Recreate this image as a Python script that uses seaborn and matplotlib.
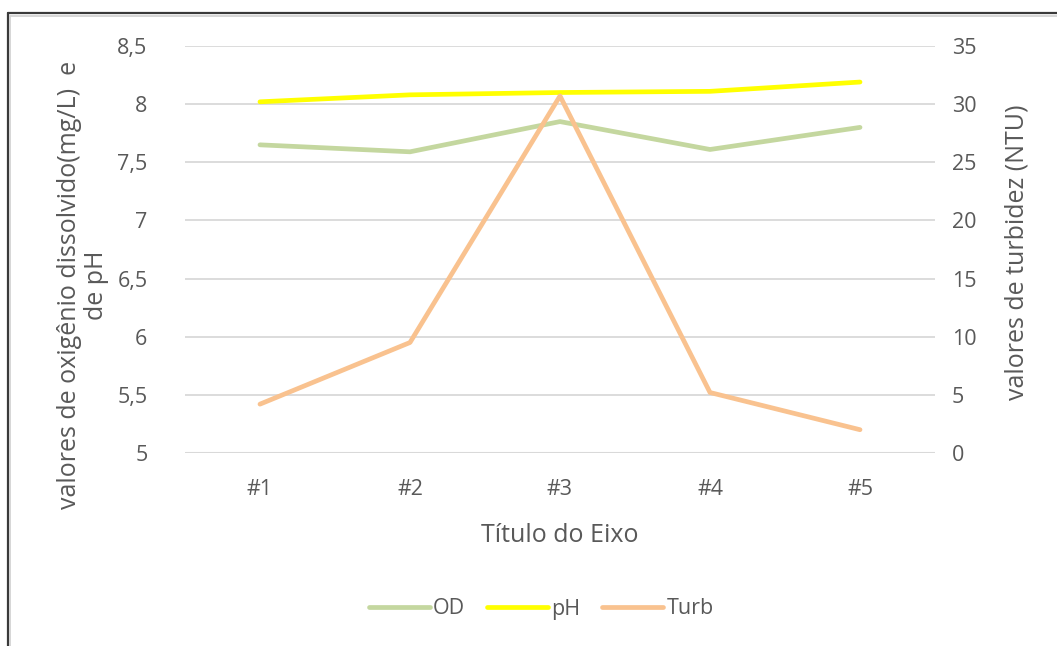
import matplotlib
matplotlib.use("Agg")
import matplotlib.pyplot as plt
from matplotlib.lines import Line2D
from matplotlib.ticker import FuncFormatter
import seaborn as sns
import pandas as pd

# Sampling points and measured values
points = ["#1", "#2", "#3", "#4", "#5"]
od_values = [7.65, 7.59, 7.85, 7.61, 7.80]     # dissolved oxygen (mg/L)
ph_values = [8.02, 8.08, 8.10, 8.11, 8.19]     # pH
turb_values = [4.2, 9.5, 30.7, 5.2, 2.0]       # turbidity (NTU)

left_ticks = [5, 5.5, 6, 6.5, 7, 7.5, 8, 8.5]
right_ticks = [0, 5, 10, 15, 20, 25, 30, 35]

sns.set_theme(style="white")
plt.rcParams["font.family"] = ["Open Sans", "DejaVu Sans"]

TEXT = "#595959"
GRID = "#D9D9D9"
C_OD = "#C4D79F"
C_PH = "#FFFF00"
C_TURB = "#F9C28F"

df = pd.DataFrame({"ponto": points, "OD": od_values, "pH": ph_values, "Turb": turb_values})

fig = plt.figure(figsize=(10.57, 6.46), dpi=100)
ax = fig.add_axes([0.175, 0.2988, 0.7096, 0.63])
ax2 = ax.twinx()

lw = 3.4
sns.lineplot(data=df, x="ponto", y="OD", ax=ax, color=C_OD, lw=lw,
             solid_capstyle="round", solid_joinstyle="round", zorder=3)
sns.lineplot(data=df, x="ponto", y="pH", ax=ax, color=C_PH, lw=lw,
             solid_capstyle="round", solid_joinstyle="round", zorder=4)
sns.lineplot(data=df, x="ponto", y="Turb", ax=ax2, color=C_TURB, lw=lw,
             solid_capstyle="round", solid_joinstyle="round", zorder=3)

ax.set_xlim(-0.5, len(points) - 0.5)
ax.set_ylim(left_ticks[0], left_ticks[-1])
ax2.set_ylim(right_ticks[0], right_ticks[-1])
ax.set_yticks(left_ticks)
ax2.set_yticks(right_ticks)

def comma_fmt(v, _pos):
    return f"{v:g}".replace(".", ",")

ax.yaxis.set_major_formatter(FuncFormatter(comma_fmt))
ax2.yaxis.set_major_formatter(FuncFormatter(comma_fmt))

ax.grid(axis="y", color=GRID, lw=1.3)
ax.set_axisbelow(True)
ax2.grid(False)
for a in (ax, ax2):
    for side in ("top", "right", "left", "bottom"):
        a.spines[side].set_visible(False)
ax.axhline(left_ticks[0], color=GRID, lw=2.2, zorder=1)

TICK_FS = 15.5
ax.tick_params(axis="y", length=0, pad=27, labelsize=TICK_FS, labelcolor=TEXT)
ax2.tick_params(axis="y", length=0, pad=12, labelsize=TICK_FS, labelcolor=TEXT)
ax.tick_params(axis="x", length=0, pad=19, labelsize=TICK_FS, labelcolor=TEXT)

ax.set_xlabel("Título do Eixo", fontsize=18, color=TEXT, labelpad=16)
ax.set_ylabel("")
ax2.set_ylabel("")

fig.text(83 / 1057, 1 - 285 / 646, "valores de oxigênio dissolvido(mg/L)  e\nde pH",
         rotation=90, ha="center", va="center", multialignment="center",
         fontsize=18, color=TEXT, linespacing=1.1)
fig.text(1017 / 1057, 1 - 252 / 646, "valores de turbidez (NTU)",
         rotation=90, ha="center", va="center", fontsize=18, color=TEXT)

handles = [Line2D([], [], color=c, lw=lw, solid_capstyle="round")
           for c in (C_OD, C_PH, C_TURB)]
leg = fig.legend(handles, ["OD", "pH", "Turb"], loc="center",
                 bbox_to_anchor=(0.512, 1 - 609 / 646), ncol=3, frameon=False,
                 fontsize=15.5, handlelength=2.85, handletextpad=0.15, columnspacing=1.0)
for t in leg.get_texts():
    t.set_color(TEXT)

# Outer chart frame (left and top edges)
x0, y0 = 7.5 / 1057, 1 - 13 / 646
fig.add_artist(Line2D([x0, x0], [0, y0], transform=fig.transFigure, color="#3A3A3A", lw=1.6))
fig.add_artist(Line2D([x0, 1], [y0, y0], transform=fig.transFigure, color="#3A3A3A", lw=1.6))
fig.add_artist(Line2D([x0 + 2.5 / 1057, x0 + 2.5 / 1057], [0, y0 - 2.5 / 646],
                      transform=fig.transFigure, color="#D0D0D0", lw=1.2))
fig.add_artist(Line2D([x0 + 2.5 / 1057, 1], [y0 - 2.5 / 646, y0 - 2.5 / 646],
                      transform=fig.transFigure, color="#D0D0D0", lw=1.2))

fig.savefig("out.png", dpi=100)
